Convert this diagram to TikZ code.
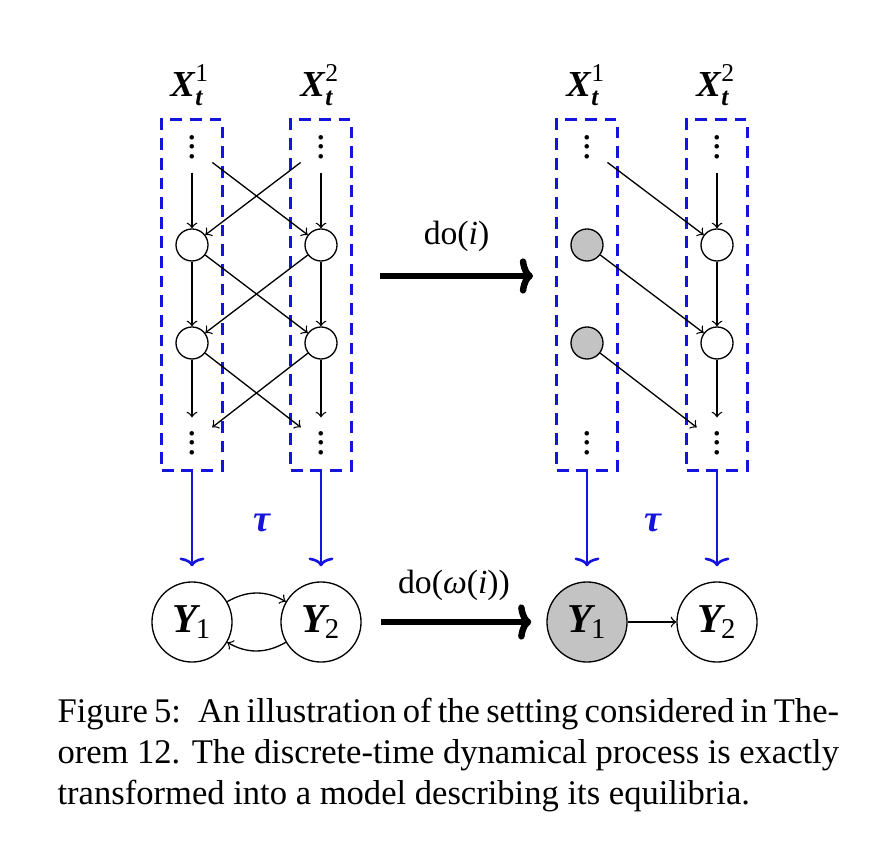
\documentclass[tikz,border=0pt]{standalone}
\usepackage{amsmath}
\usepackage{fontspec}
\setmainfont{Liberation Serif}
\usetikzlibrary{arrows,arrows.meta,positioning,shapes,fit,calc}
\definecolor{taublue}{RGB}{20,20,220}
\definecolor{obsgray}{RGB}{195,195,195}
\newcommand{\Xlab}[1]{$\textbf{\textit{X}}^{\text{#1}}_{\textbf{\textit{t}}}$}
\newcommand{\Ylab}[1]{${\textbf{\textit{Y}}\kern-1.5pt}_{\text{#1}}$}
\newcommand{\stackdots}{\vbox{\baselineskip3.3pt\lineskiplimit0pt\hbox{.}\hbox{.}\hbox{.}}}
\newcommand{\capline}[1]{\makebox[9.372cm][s]{#1}}

\begin{document}
\begin{tikzpicture}[
		x=0.012cm, y=-0.012cm,
		>=to,
		var/.style={
			circle,
			draw,
			line width=0.45pt,
			minimum size=0.384cm,
			inner sep=0pt
		},
		intervened/.style={
			var,
			fill=obsgray
		},
		dots/.style={
			circle,
			minimum size=0.6cm,
			inner sep=0pt,
			font=\fontsize{13}{14}\selectfont
		},
		yvar/.style={
			circle,
			draw,
			line width=0.45pt,
			minimum size=0.96cm,
			inner sep=0pt,
			font=\fontsize{14}{16}\selectfont
		},
		link/.style={
			->,
			line width=0.45pt
		},
		window/.style={
			draw=taublue,
			line width=1pt,
			dash pattern=on 4pt off 2.7pt,
			inner xsep=0.055cm,
			inner ysep=0.024cm
		},
		tauarrow/.style={
			-{To[length=3pt,width=8.5pt]},
			draw=taublue,
			line width=0.9pt,
			shorten >=0.18cm
		},
		doarrow/.style={
			-{To[length=4.5pt,width=12pt]},
			line width=2.2pt
		},
		xlab/.style={font=\fontsize{12.5}{14}\selectfont},
		taulab/.style={text=taublue, font=\fontsize{13}{15}\selectfont},
		dolab/.style={font=\fontsize{11.5}{13}\selectfont}
		]
		\useasboundingbox (0,0) rectangle (874,850);

		% dynamical process
		\node[xlab] (LX1) at (190,85) {\Xlab{1}};
		\node[xlab] (LX2) at (320,85) {\Xlab{2}};
		\node[dots] (LT1) at (192,147) {\stackdots};
		\node[dots] (LT2) at (321,147) {\stackdots};
		\node[var] (L11) at (192,245) {};
		\node[var] (L21) at (321,245) {};
		\node[var] (L12) at (192,343) {};
		\node[var] (L22) at (321,343) {};
		\node[dots] (LB1) at (192,443) {\stackdots};
		\node[dots] (LB2) at (321,443) {\stackdots};
		\node[window, fit=(LT1)(LB1)] (LBOX1) {};
		\node[window, fit=(LT2)(LB2)] (LBOX2) {};
		\foreach \a/\b in {LT1/L11, LT1/L21, LT2/L21, LT2/L11,
			L11/L12, L11/L22, L21/L22, L21/L12,
			L12/LB1, L12/LB2, L22/LB2, L22/LB1}
			\draw[link] (\a) -- (\b);

		% intervened process
		\node[xlab] (RX1) at (586,85) {\Xlab{1}};
		\node[xlab] (RX2) at (716,85) {\Xlab{2}};
		\node[dots] (RT1) at (587,147) {\stackdots};
		\node[dots] (RT2) at (717,147) {\stackdots};
		\node[intervened] (R11) at (587,245) {};
		\node[var] (R21) at (717,245) {};
		\node[intervened] (R12) at (587,343) {};
		\node[var] (R22) at (717,343) {};
		\node[dots] (RB1) at (587,443) {\stackdots};
		\node[dots] (RB2) at (717,443) {\stackdots};
		\node[window, fit=(RT1)(RB1)] (RBOX1) {};
		\node[window, fit=(RT2)(RB2)] (RBOX2) {};
		\foreach \a/\b in {RT1/R21, RT2/R21, R21/R22, R11/R22,
			R22/RB2, R12/RB2}
			\draw[link] (\a) -- (\b);

		% equilibrium models
		\node[yvar] (LY1) at (192,622) {\Ylab{1}};
		\node[yvar] (LY2) at (321,622) {\Ylab{2}};
		\node[yvar, fill=obsgray] (RY1) at (587,622) {\Ylab{1}};
		\node[yvar] (RY2) at (717,622) {\Ylab{2}};
		\draw[link] (LY1) to[bend left=30] (LY2);
		\draw[link] (LY2) to[bend left=30] (LY1);
		\draw[link] (RY1) -- (RY2);

		\draw[tauarrow] (LBOX1.south) -- (LY1.north);
		\draw[tauarrow] (LBOX2.south) -- (LY2.north);
		\draw[tauarrow] (RBOX1.south) -- (RY1.north);
		\draw[tauarrow] (RBOX2.south) -- (RY2.north);
		\node[taulab] (TAUL) at (262,523) {\textbf{\textit{τ}}};
		\node[taulab] (TAUR) at (653,523) {\textbf{\textit{τ}}};

		% interventions
		\coordinate (DOA) at (380,276);
		\coordinate (DOB) at (533,276);
		\draw[doarrow] (DOA) -- node[dolab, above=4pt] (DOI) {do(\textit{i})} (DOB);
		\draw[doarrow, shorten <=0.23cm, shorten >=0.18cm] (LY2) -- node[dolab, above=3pt] (DOW) {do(\textit{ω}(\textit{i}))} (RY1);

		% caption
		\node[anchor=north west, inner sep=0pt, align=left,
			font=\fontsize{11.8}{14}\selectfont] (CAP) at (57,698)
			{\capline{Figure 5:\hspace{0.2em} An illustration of the setting considered in The-}\\
			\capline{orem 12. The discrete-time dynamical process is exactly}\\
			transformed into a model describing its equilibria.};
		\end{tikzpicture}
\end{document}
